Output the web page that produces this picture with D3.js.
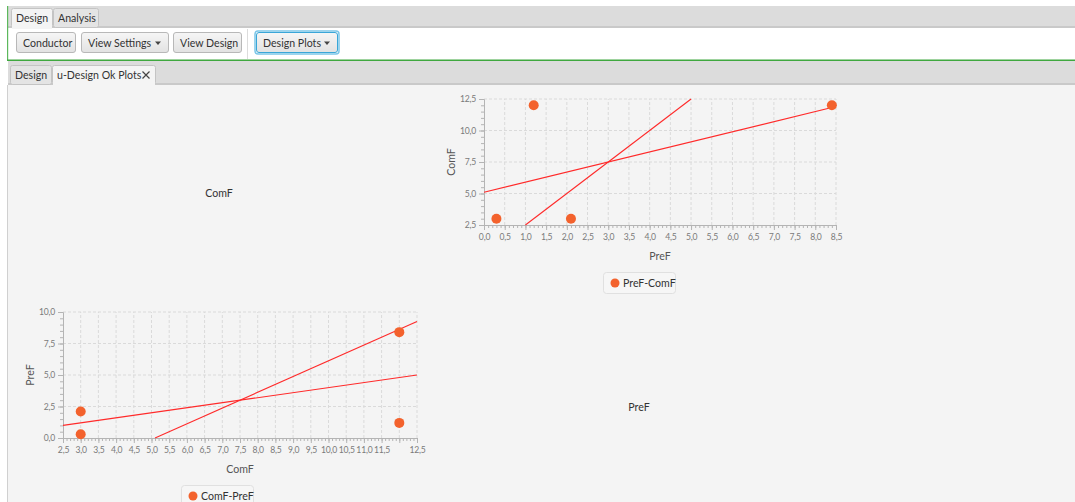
<!DOCTYPE html>
<html>
<head>
<meta charset="utf-8">
<script src="https://cdn.jsdelivr.net/npm/d3@7"></script>
<style>
  html, body { margin: 0; padding: 0; background: #fff; }
  svg { display: block; font-family: Lato, "Noto Sans", sans-serif; }
</style>
</head>
<body>
<svg id="app" width="1075" height="502"></svg>
<script>
// ---- data ----
const preF = [0.3, 1.2, 2.1, 8.4];
const comF = [3.0, 12.0, 3.0, 12.0];
// fitted lines, endpoints as [x, y] in each plot's own axes
const fitPreComA = [[0, 5.1], [8.4, 11.82]];
const fitPreComB = [[1.0, 2.5], [5.0, 12.5]];
const fitComPreA = [[2.5, 1.0], [12.5, 5.0]];
const fitComPreB = [[5.1, 0.0], [12.5, 9.25]];
const preTicks = [0.0, 0.5, 1.0, 1.5, 2.0, 2.5, 3.0, 3.5, 4.0, 4.5, 5.0, 5.5, 6.0, 6.5, 7.0, 7.5, 8.0, 8.5];
const comTicksX = [2.5, 3.0, 3.5, 4.0, 4.5, 5.0, 5.5, 6.0, 6.5, 7.0, 7.5, 8.0, 8.5, 9.0, 9.5, 10.0, 10.5, 11.0, 11.5, 12.0, 12.5];
const comTicksY = [2.5, 5.0, 7.5, 10.0, 12.5];
const preTicksY = [0.0, 2.5, 5.0, 7.5, 10.0];
const hiddenComLabels = [12.0];

const FONT = 'Lato, "Noto Sans", sans-serif';
const UI_SIZE = 10.6;
const fmt = v => v.toFixed(1).replace('.', ',');
const svg = d3.select('#app');

// ---- window chrome ----
svg.append('rect').attr('x', 0).attr('y', 0).attr('width', 1075).attr('height', 502).attr('fill', '#ffffff');
// top tab header
svg.append('rect').attr('x', 8).attr('y', 6).attr('width', 1067).attr('height', 21).attr('fill', '#dcdcdc');
svg.append('rect').attr('x', 8).attr('y', 26).attr('width', 1067).attr('height', 2).attr('fill', '#c9c9c9');
// toolbar area
svg.append('rect').attr('x', 8).attr('y', 28).attr('width', 1067).attr('height', 32).attr('fill', '#ffffff');
svg.append('rect').attr('x', 7).attr('y', 6).attr('width', 1.2).attr('height', 55).attr('fill', '#5cb85c');
svg.append('rect').attr('x', 7).attr('y', 59.5).attr('width', 1068).attr('height', 1.5).attr('fill', '#3fa83f');
// second tab header
svg.append('rect').attr('x', 8).attr('y', 61).attr('width', 1067).attr('height', 22).attr('fill', '#dcdcdc');
svg.append('rect').attr('x', 8).attr('y', 83).attr('width', 1067).attr('height', 2).attr('fill', '#c9c9c9');
// content
svg.append('rect').attr('x', 8).attr('y', 85).attr('width', 1067).attr('height', 417).attr('fill', '#f4f4f4');
svg.append('rect').attr('x', 7).attr('y', 85).attr('width', 1).attr('height', 417).attr('fill', '#d0d0d0');

function tab(x, y, w, h, label, selected, closable) {
  const g = svg.append('g');
  g.append('rect').attr('x', x + 0.5).attr('y', y + 0.5).attr('width', w).attr('height', h)
    .attr('rx', 2).attr('fill', selected ? '#f4f4f4' : '#e4e4e4').attr('stroke', '#c4c4c4');
  if (selected) g.append('rect').attr('x', x + 1).attr('y', y + h - 1).attr('width', w - 1).attr('height', 3).attr('fill', '#f4f4f4');
  g.append('text').attr('x', x + 5).attr('y', y + h / 2 + 4).attr('font-size', UI_SIZE).attr('fill', '#333').text(label);
  if (closable) {
    const cx = x + w - 9, cy = y + h / 2 + 0.5;
    g.append('path').attr('d', `M${cx - 3.5},${cy - 3.5} L${cx + 3.5},${cy + 3.5} M${cx + 3.5},${cy - 3.5} L${cx - 3.5},${cy + 3.5}`)
      .attr('stroke', '#444').attr('stroke-width', 1.2);
  }
}
tab(11, 8, 41, 19, 'Design', true);
tab(53, 8, 45, 19, 'Analysis', false);
tab(10, 65, 41, 19, 'Design', false);
tab(52, 65, 103, 19, 'u-Design Ok Plots', true, true);

function button(x, y, w, h, label, arrow, focused) {
  const g = svg.append('g');
  const gid = 'btn' + Math.round(x);
  const grad = svg.append('defs').append('linearGradient').attr('id', gid).attr('x1', 0).attr('y1', 0).attr('x2', 0).attr('y2', 1);
  grad.append('stop').attr('offset', '0%').attr('stop-color', '#f6f6f6');
  grad.append('stop').attr('offset', '100%').attr('stop-color', '#e2e2e2');
  if (focused) {
    g.append('rect').attr('x', x - 1).attr('y', y - 1).attr('width', w + 2).attr('height', h + 2)
      .attr('rx', 3).attr('fill', 'none').attr('stroke', '#7cc6e8').attr('stroke-width', 1.5);
  }
  g.append('rect').attr('x', x + 0.5).attr('y', y + 0.5).attr('width', w - 1).attr('height', h - 1)
    .attr('rx', 2.5).attr('fill', `url(#${gid})`).attr('stroke', focused ? '#3aa6d8' : '#b8b8b8');
  g.append('text').attr('x', x + 7).attr('y', y + h / 2 + 4).attr('font-size', UI_SIZE).attr('fill', '#333').text(label);
  if (arrow) {
    const ax = x + w - 14, ay = y + h / 2 - 1;
    g.append('path').attr('d', `M${ax},${ay} L${ax + 6},${ay} L${ax + 3},${ay + 3.5} Z`).attr('fill', '#444');
  }
}
button(16, 32, 60, 21, 'Conductor');
button(81, 32, 88, 21, 'View Settings', true);
button(173, 32, 69, 21, 'View Design');
svg.append('rect').attr('x', 247).attr('y', 29).attr('width', 1).attr('height', 30).attr('fill', '#dcdcdc');
button(256, 32, 82, 21, 'Design Plots', true, true);

// ---- diagonal labels ----
svg.append('text').attr('x', 219).attr('y', 197).attr('text-anchor', 'middle').attr('font-size', UI_SIZE).attr('fill', '#333').text('ComF');
svg.append('text').attr('x', 639).attr('y', 411).attr('text-anchor', 'middle').attr('font-size', UI_SIZE).attr('fill', '#333').text('PreF');

// ---- scatter plot panel ----
function scatterPanel(opt) {
  const x = d3.scaleLinear().domain(opt.xDomain).range(opt.xRange);
  const y = d3.scaleLinear().domain(opt.yDomain).range(opt.yRange);
  const g = svg.append('g');
  const [x0, x1] = opt.xRange, [y0, y1] = opt.yRange;

  // dashed grid
  g.append('g').selectAll('line').data(opt.xTicks.slice(1)).join('line')
    .attr('x1', d => x(d)).attr('x2', d => x(d)).attr('y1', y0).attr('y2', y1)
    .attr('stroke', '#dadada').attr('stroke-dasharray', '3,2');
  g.append('g').selectAll('line').data(opt.yTicks.slice(1)).join('line')
    .attr('x1', x0).attr('x2', x1).attr('y1', d => y(d)).attr('y2', d => y(d))
    .attr('stroke', '#dadada').attr('stroke-dasharray', '3,2');

  // x axis (major + minor ticks)
  const xAxis = d3.axisBottom(x).tickValues(opt.xTicks).tickSize(5).tickPadding(4)
    .tickFormat(d => opt.hiddenX && opt.hiddenX.includes(d) ? '' : fmt(d));
  const xa = g.append('g').attr('transform', `translate(0,${y0})`).call(xAxis);
  const xMinorVals = d3.range(opt.xDomain[0], opt.xDomain[1] + 0.001, 0.1);
  const xm = g.append('g').attr('transform', `translate(0,${y0})`)
    .call(d3.axisBottom(x).tickValues(xMinorVals).tickSize(3).tickFormat(''));
  xm.select('.domain').remove();

  // y axis (major + minor ticks)
  const yAxis = d3.axisLeft(y).tickValues(opt.yTicks).tickSize(5).tickPadding(3).tickFormat(fmt);
  const ya = g.append('g').attr('transform', `translate(${x0},0)`).call(yAxis);
  const yMinorVals = d3.range(opt.yDomain[0], opt.yDomain[1] + 0.001, 0.5);
  const ym = g.append('g').attr('transform', `translate(${x0},0)`)
    .call(d3.axisLeft(y).tickValues(yMinorVals).tickSize(3).tickFormat(''));
  ym.select('.domain').remove();

  [xa, ya, xm, ym].forEach(a => {
    a.selectAll('.domain').attr('stroke', '#b4b4b4');
    a.selectAll('.tick line').attr('stroke', '#b4b4b4');
    a.selectAll('.tick text').attr('fill', '#7a7a7a').attr('font-size', 8.6)
      .attr('letter-spacing', -0.2).attr('font-family', FONT);
  });

  // axis titles
  g.append('text').attr('x', (x0 + x1) / 2).attr('y', y0 + 35).attr('text-anchor', 'middle')
    .attr('font-size', UI_SIZE).attr('fill', '#555').text(opt.xLabel);
  g.append('text').attr('transform', `translate(${opt.yLabelX},${(y0 + y1) / 2}) rotate(-90)`)
    .attr('text-anchor', 'middle').attr('font-size', UI_SIZE).attr('fill', '#555').text(opt.yLabel);

  // fitted lines
  const line = d3.line().x(d => x(d[0])).y(d => y(d[1]));
  opt.lines.forEach(l => {
    g.append('path').attr('d', line(l)).attr('fill', 'none').attr('stroke', '#ff2a2a').attr('stroke-width', 1.1);
  });

  // points
  g.append('g').selectAll('circle').data(opt.xs.map((v, i) => [v, opt.ys[i]])).join('circle')
    .attr('cx', d => x(d[0])).attr('cy', d => y(d[1])).attr('r', 5)
    .attr('fill', '#f3622d');

  // legend
  const lg = g.append('g');
  lg.append('rect').attr('x', opt.legendX + 0.5).attr('y', opt.legendY + 0.5).attr('width', opt.legendW).attr('height', 21)
    .attr('rx', 3).attr('fill', '#f6f6f6').attr('stroke', '#e0e0e0');
  lg.append('circle').attr('cx', opt.legendX + 12).attr('cy', opt.legendY + 11).attr('r', 4.5).attr('fill', '#f3622d');
  lg.append('text').attr('x', opt.legendX + 20).attr('y', opt.legendY + 15).attr('font-size', UI_SIZE).attr('fill', '#333').text(opt.legend);
}

scatterPanel({
  xs: preF, ys: comF,
  xDomain: [0, 8.5], xRange: [484, 836],
  yDomain: [2.5, 12.5], yRange: [225, 99],
  xTicks: preTicks, yTicks: comTicksY,
  xLabel: 'PreF', yLabel: 'ComF', yLabelX: 455,
  lines: [fitPreComA, fitPreComB],
  legend: 'PreF-ComF', legendX: 603, legendY: 272, legendW: 72
});

scatterPanel({
  xs: comF, ys: preF,
  xDomain: [2.5, 12.5], xRange: [63, 417],
  yDomain: [0, 10], yRange: [438, 312],
  xTicks: comTicksX, yTicks: preTicksY, hiddenX: hiddenComLabels,
  xLabel: 'ComF', yLabel: 'PreF', yLabelX: 34,
  lines: [fitComPreA, fitComPreB],
  legend: 'ComF-PreF', legendX: 181, legendY: 485, legendW: 72
});
</script>
</body>
</html>
